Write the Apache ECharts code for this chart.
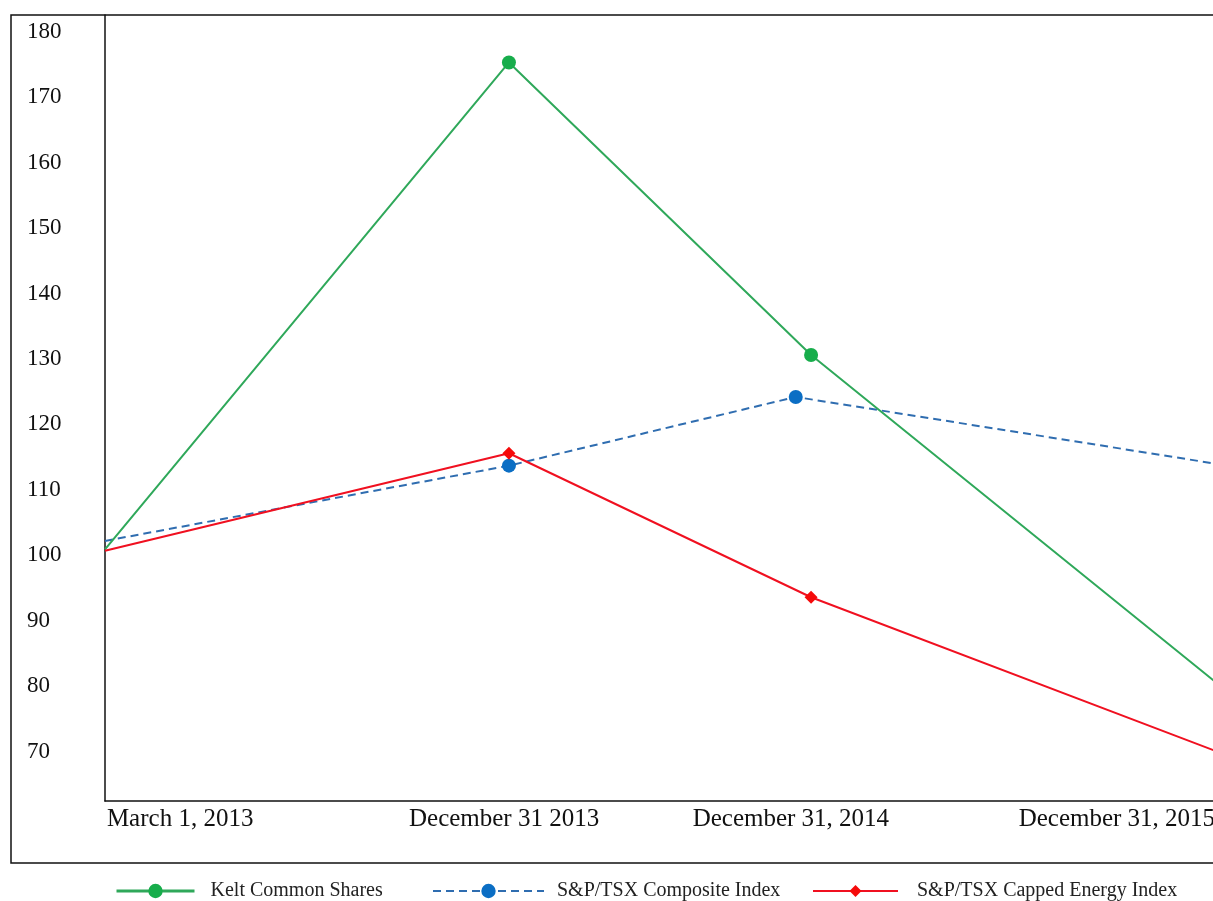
<!DOCTYPE html>
<html>
<head>
<meta charset="utf-8">
<script src="https://cdn.jsdelivr.net/npm/echarts@6/dist/echarts.min.js"></script>
<style>
html,body{margin:0;padding:0;background:#fff;}
#chart{width:1213px;height:901px;}
</style>
</head>
<body>
<div id="chart"></div>
<script>
// Period positions (March 1, 2013 = 0, December 31 2013 = 1)
const periodsMain = [0, 1, 1.748, 2.78];
const periodsComposite = [0, 1, 1.71, 2.78];
const dateLabels = ['March 1, 2013', 'December 31 2013', 'December 31, 2014', 'December 31, 2015'];
const keltValues = [100.9, 175.3, 130.6, 79.1];
const compositeValues = [102.2, 113.7, 124.2, 113.7];
const energyValues = [100.7, 115.6, 93.6, 69.4];
const yTicks = [70, 80, 90, 100, 110, 120, 130, 140, 150, 160, 170, 180];
const seriesNames = ['Kelt Common Shares', 'S&P/TSX Composite Index', 'S&P/TSX Capped Energy Index'];

const FONT = "'Liberation Serif', 'Times New Roman', 'DejaVu Serif', serif";
const labelSpots = [0.186, 0.988, 1.698, 2.505];

function pts(xs, ys) {
  return ys.map((v, i) => {
    const item = { value: [xs[i], v] };
    if (i === 0) item.symbol = 'none';
    return item;
  });
}

const legendText = (pad) => ({ fontFamily: FONT, fontSize: 20, color: '#222', padding: [0, 0, 0, pad] });

const chart = echarts.init(document.getElementById('chart'), null, { renderer: 'canvas' });
chart.setOption({
  backgroundColor: '#fff',
  animation: false,
  graphic: [{
    type: 'rect',
    shape: { x: 11, y: 15, width: 1400, height: 848 },
    style: { fill: 'none', stroke: '#111', lineWidth: 1.5 },
    z: 0
  }],
  grid: { left: 105, right: -40, top: 15, bottom: 100, outerBoundsMode: 'none', containLabel: false },
  xAxis: {
    type: 'value',
    min: 0,
    max: 2.842,
    splitLine: { show: false },
    axisTick: { show: false },
    axisLine: { show: true, onZero: false, lineStyle: { color: '#111', width: 1.5 } },
    axisLabel: {
      customValues: labelSpots,
      formatter: (v) => {
        const i = labelSpots.findIndex(p => Math.abs(p - v) < 1e-6);
        return i >= 0 ? dateLabels[i] : '';
      },
      margin: 6,
      color: '#111',
      fontFamily: FONT,
      fontSize: 25,
      hideOverlap: false
    }
  },
  yAxis: {
    type: 'value',
    min: 62.47,
    max: 182.55,
    splitLine: { show: false },
    axisTick: { show: false },
    axisLine: { show: true, lineStyle: { color: '#111', width: 1.5 } },
    axisLabel: {
      customValues: yTicks,
      align: 'left',
      margin: 78,
      color: '#111',
      fontFamily: FONT,
      fontSize: 23
    }
  },
  legend: [
    {
      data: [seriesNames[0]], left: 115, top: 881, padding: 0, itemWidth: 78, itemHeight: 18,
      lineStyle: { width: 3 },
      textStyle: legendText(11)
    },
    {
      data: [seriesNames[1]], left: 432, top: 881, padding: 0, itemWidth: 111, itemHeight: 18,
      textStyle: legendText(8)
    },
    {
      data: [seriesNames[2]], left: 812, top: 881, padding: 0, itemWidth: 85, itemHeight: 15,
      textStyle: legendText(14)
    }
  ],
  series: [
    {
      name: seriesNames[0], type: 'line',
      data: pts(periodsMain, keltValues),
      symbol: 'circle', symbolSize: 14,
      itemStyle: { color: '#17ad4b' },
      lineStyle: { color: '#2fa85a', width: 2 },
      z: 3
    },
    {
      name: seriesNames[1], type: 'line',
      data: pts(periodsComposite, compositeValues),
      symbol: 'circle', symbolSize: 14,
      itemStyle: { color: '#0b6ec4' },
      lineStyle: { color: '#2f6db0', width: 2, type: [8, 5] },
      z: 2
    },
    {
      name: seriesNames[2], type: 'line',
      data: pts(periodsMain, energyValues),
      symbol: 'diamond', symbolSize: 13,
      itemStyle: { color: '#f50a0a' },
      lineStyle: { color: '#f01020', width: 2 },
      z: 4
    }
  ]
});
</script>
</body>
</html>
